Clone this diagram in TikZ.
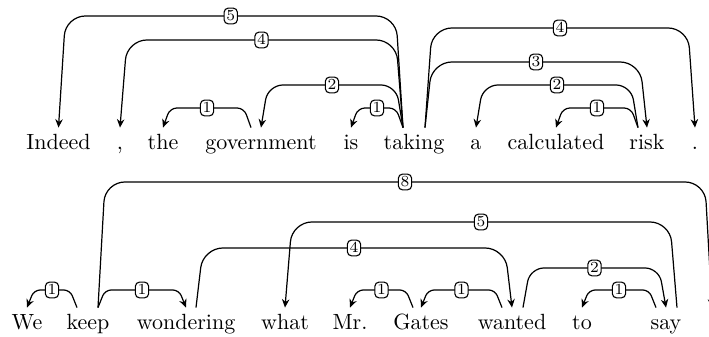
\documentclass[tikz,border=0pt]{standalone}
\usetikzlibrary{calc,arrows.meta}
\tikzset{
  word/.style={anchor=base, inner sep=0pt, text height=10pt, text depth=0pt},
  arcline/.style={line width=0.55pt, -{Stealth[length=3.8pt,width=3.4pt]}},
  lab/.style={draw, fill=white, rounded corners=1.8pt, inner xsep=1pt, inner ysep=1pt, text height=4.8pt, text depth=0.3pt, font=\scriptsize, line width=0.5pt}
}
\newcommand\deparc[6]{%
  \draw[arcline] let \p1=([xshift=#2*0.4545pt]#1.north), \p2=(#3.north), \p3=(0,#4) in
    [rounded corners={min(9pt,0.35*(\y3-\y1))}]
    (\p1) -- ({\x1+(#6)*3.2pt},\y3) -- node[lab]{#5} ({\x2-(#6)*3.2pt},\y3) -- (\p2);}
\begin{document}
\begin{tikzpicture}[x=0.4545pt,y=-0.4545pt]
\useasboundingbox (0,0) rectangle (709,337);
\clip (0,0) rectangle (709,337);
% top sentence
\node[word] (indeed) at (58.5,150) {Indeed};
\node[word] (comma) at (120,150) {,};
\node[word] (the) at (163,150) {the};
\node[word] (gov) at (261,150) {government};
\node[word] (is) at (351,150) {is};
\node[word] (taking) at (414,150) {taking};
\node[word] (a) at (476,150) {a};
\node[word] (calc) at (556,150) {calculated};
\node[word] (risk) at (647,150) {risk};
\node[word] (dot) at (695,150) {.};
% bottom sentence
\node[word] (we) at (27,330) {We};
\node[word] (keep) at (88,330) {keep};
\node[word] (wond) at (186,330) {wondering};
\node[word] (what) at (285,330) {what};
\node[word] (mr) at (350,330) {Mr.};
\node[word] (gates) at (421,330) {Gates};
\node[word] (wanted) at (512,330) {wanted};
\node[word] (to) at (582,330) {to};
\node[word] (say) at (666,330) {say};
\node[word] (edot) at (712,330) {};
% top arcs
\deparc{gov}{-10}{the}{108}{1}{-1}
\deparc{taking}{-11}{is}{108}{1}{-1}
\deparc{taking}{-11}{gov}{85}{2}{-1}
\deparc{taking}{-11}{comma}{40}{4}{-1}
\deparc{taking}{-11}{indeed}{16}{5}{-1}
\deparc{taking}{11}{dot}{28}{4}{1}
\deparc{taking}{11}{risk}{62}{3}{1}
\deparc{risk}{-9}{a}{85}{2}{-1}
\deparc{risk}{-9}{calc}{108}{1}{-1}
% bottom arcs
\deparc{keep}{-11}{we}{290}{1}{-1}
\deparc{keep}{10}{wond}{290}{1}{1}
\deparc{keep}{10}{edot}{182}{8}{1}
\deparc{wond}{10}{wanted}{248}{4}{1}
\deparc{say}{11}{what}{222}{5}{-1}
\deparc{gates}{-8}{mr}{290}{1}{-1}
\deparc{wanted}{-10}{gates}{290}{1}{-1}
\deparc{wanted}{11}{say}{268}{2}{1}
\deparc{say}{-10}{to}{290}{1}{-1}
\end{tikzpicture}
\end{document}
